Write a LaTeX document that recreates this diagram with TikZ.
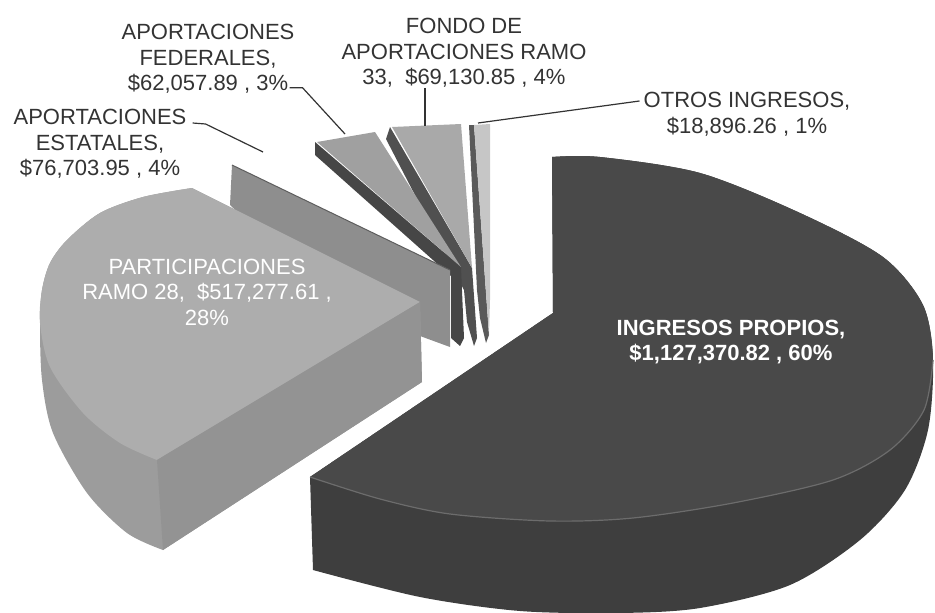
\documentclass[tikz,border=0pt]{standalone}
\usepackage{fontspec}
\setmainfont{Liberation Sans}
\usepackage{tikz}
\usetikzlibrary{calc}
\definecolor{labelgray}{HTML}{333333}
\definecolor{propwall}{HTML}{3E3E3E}
\definecolor{proptop}{HTML}{494949}
\definecolor{proprim}{HTML}{6C6C6C}
\definecolor{partwall}{HTML}{9C9C9C}
\definecolor{parttop}{HTML}{ADADAD}
\definecolor{partfront}{HTML}{939393}
\definecolor{estfill}{HTML}{8E8E8E}
\definecolor{estedge}{HTML}{5E5E5E}
\definecolor{fedwall}{HTML}{464646}
\definecolor{fedtop}{HTML}{A0A0A0}
\definecolor{fonwall}{HTML}{505050}
\definecolor{fontop}{HTML}{A9A9A9}
\definecolor{otrwall}{HTML}{5A5A5A}
\definecolor{otrtop}{HTML}{C6C6C6}

\begin{document}
\begin{tikzpicture}[x=1pt,y=-1pt,
	lbl/.style={align=center,inner sep=0pt,text=labelgray,font=\fontsize{22}{25.5}\selectfont},
	leader/.style={draw=labelgray,line width=1.2pt},
	rim/.style={draw=proprim,line width=1.2pt}]
				\useasboundingbox (0,0) rectangle (935,613);
				
				\fill[otrwall] (469,125) -- (474,125) -- (489,335) -- (486,343) -- (480,318) -- (477,290) -- cycle;
				\fill[otrtop] (474,125) -- (490,124) -- (490,300) -- (489,335) -- cycle;
				
				\fill[fonwall] (390,127) -- (472,268) -- (477,338) -- (474,346) -- (467,322) -- (464,290) -- (386,139) -- cycle;
				\fill[fontop] (392,127) -- (461,124) -- (472,268) -- cycle;
				
				\fill[fedwall] (315,142) -- (461,267) -- (464,338) -- (460,346) -- (451,338) -- (451,276) -- (315,155) -- cycle;
				\fill[fedtop] (317,142) -- (375,132) -- (461,267) -- cycle;
				
				\fill[estfill] (232,165) -- (450,270) -- (450,347) -- (420,336) -- (300,270) -- (230,205) -- cycle;
				\draw[estedge, line width=1pt] (232,165) -- (450,270);
				
				\fill[partwall] plot[smooth] coordinates {(192,188) (143,197) (100,213) (67,240) (50,263) (42,290) (40,323) (42,380) (53,433) (87,493) (127,533) (163,550)} -- (422,382) -- (420,302) -- cycle;
				\fill[parttop] plot[smooth] coordinates {(192,188) (143,197) (100,213) (67,240) (50,263) (42,290) (40,323) (50,367) (83,413) (120,443) (157,460)} -- (420,302) -- cycle;
				\fill[partfront] (157,460) -- (420,302) -- (422,382) -- (163,550) -- cycle;
				
				\fill[propwall] plot[smooth] coordinates {(552,157) (600,157) (700,173) (800,213) (883,257) (923,305) (933,360) (928,430) (905,490) (860,540) (790,585) (700,608) (620,613) (520,611) (420,597) (313,570)} -- (310,477) -- (553,313) -- cycle;
				\fill[proptop] plot[smooth] coordinates {(552,157) (600,157) (700,173) (800,213) (883,257) (923,305) (933,360) (924,410) (890,450) (833,480) (733,503) (633,518) (550,521) (450,514) (380,499) (310,477)} -- (553,313) -- cycle;
				\draw[rim] plot[smooth] coordinates {(933,360) (924,410) (890,450) (833,480) (733,503) (633,518) (550,521) (450,514) (380,499) (310,477)};
				
				\node[lbl] (lblest) at (100,144) {APORTACIONES\\ESTATALES,\\\$76,703.95 , 4\%};
				\node[lbl] (lblfed) at (208,59) {APORTACIONES\\FEDERALES,\\\$62,057.89 , 3\%};
				\node[lbl] (lblfon) at (464,53) {FONDO DE\\APORTACIONES RAMO\\33,~ \$69,130.85 , 4\%};
				\node[lbl] (lblotr) at (747,114) {OTROS INGRESOS,\\\$18,896.26 , 1\%};
				\node[lbl, text=white] (lblpar) at (207,292) {PARTICIPACIONES\\RAMO 28,~ \$517,277.61 ,\\28\%};
				\node[lbl, text=white, font=\bfseries\fontsize{22}{25.5}\selectfont] (lblpro) at (731,342) {INGRESOS PROPIOS,\\\$1,127,370.82 , 60\%};
				
				\coordinate (tipest) at (263,152);
				\coordinate (tipfed) at (345,134);
				\coordinate (tipfon) at (425,126);
				\coordinate (tipotr) at (478,123);
				
				\draw[leader] ([shift={(6,-21)}]lblest.east) -- ++(13,1) -- (tipest);
				\draw[leader] ([shift={(-5,-6)}]lblfed.south east) -- ++(13,0) -- (tipfed);
				\draw[leader] (lblfon.south -| tipfon) -- (tipfon);
				\draw[leader] ([shift={(-4,-13)}]lblotr.west) -- (tipotr);
			\end{tikzpicture}
\end{document}
